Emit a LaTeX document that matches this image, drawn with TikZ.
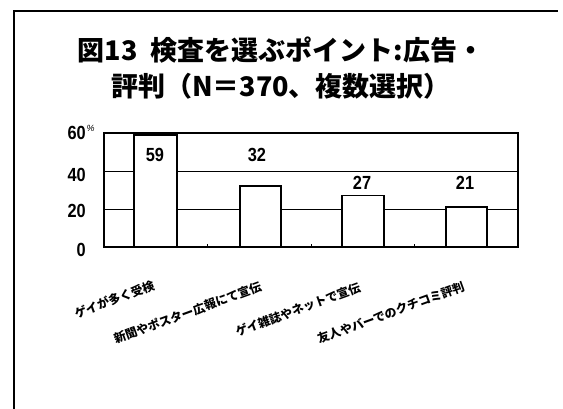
\documentclass[tikz,border=0pt]{standalone}
\usepackage{fontspec}
\setmainfont{Liberation Sans}
\newfontfamily\jp{Noto Sans CJK JP}
\begin{document}
\begin{tikzpicture}[x=1pt,y=-1pt,
  titletext/.style={font=\jp\bfseries\fontsize{27}{31}\selectfont, inner sep=0pt},
  numtext/.style={font=\bfseries\fontsize{19}{21}\selectfont, inner sep=0pt, xscale=0.86},
  axistext/.style={font=\bfseries\fontsize{19}{21}\selectfont, inner sep=0pt, anchor=east, xscale=0.86},
  cattext/.style={font=\jp\bfseries\fontsize{12}{14}\selectfont, inner sep=0pt, anchor=east, rotate=20},
  barbox/.style={draw=black, fill=white, line width=1.4pt},
  gridline/.style={line width=0.8pt},
  framecol/.style={line width=1.5pt}]
\useasboundingbox (0,0) rectangle (563,409);
\fill[white] (0,0) rectangle (563,409);
% outer frame
\coordinate (fbl) at (14,409);
\coordinate (ftl) at (14,11);
\coordinate (ftr) at (558,11);
\draw[framecol] (fbl) -- (ftl) -- (ftr);
% title
\node[titletext] (t1) at (281,50) {図13\hspace{0.5em}検査を選ぶポイント:広告・};
\node[titletext] (t2) at (281,86) {評判（N＝370、複数選択）};
% grid
\coordinate (g20l) at (104,209);
\coordinate (g20r) at (518,209);
\coordinate (g40l) at (104,171);
\coordinate (g40r) at (518,171);
\draw[gridline] (g20l) -- (g20r);
\draw[gridline] (g40l) -- (g40r);
% plot frame
\coordinate (pbl) at (104,247);
\coordinate (pbr) at (518,247);
\coordinate (ptl) at (104,133);
\coordinate (ptr) at (518,133);
\draw[line width=1.4pt] (pbl) -- (ptl) -- (ptr) -- (pbr) -- cycle;
% ticks
\foreach \tx in {207.5,311,414.5}
  \draw[line width=0.8pt] (\tx,247) -- (\tx,244);
% bars
\draw[barbox] (134,247) rectangle (177,134.9);
\draw[barbox] (240,247) rectangle (281,186.2);
\draw[barbox] (342,247) rectangle (384,195.7);
\draw[barbox] (446,247) rectangle (487,207.1);
\draw[line width=1.4pt] (pbl) -- (pbr);
% values
\node[numtext] (v1) at (155,155) {59};
\node[numtext] (v2) at (257,155) {32};
\node[numtext] (v3) at (362,183) {27};
\node[numtext] (v4) at (465,183) {21};
% axis labels
\node[axistext] (a60) at (86,133) {60};
\node[font=\itshape\fontsize{9}{10}\selectfont, inner sep=0pt, anchor=north west] (pct) at ([xshift=0.5pt,yshift=1pt]a60.north east) {\%};
\node[axistext] (a40) at (86,175) {40};
\node[axistext] (a20) at (86,211) {20};
\node[axistext] (a0) at (86,250) {0};
% category labels
\node[cattext] (c1) at (154,285) {ゲイが多く受検};
\node[cattext] (c2) at (261,286) {新聞やポスター広報にて宣伝};
\node[cattext] (c3) at (360,287) {ゲイ雑誌やネットで宣伝};
\node[cattext] (c4) at (464,286) {友人やバーでのクチコミ評判};
\end{tikzpicture}
\end{document}
